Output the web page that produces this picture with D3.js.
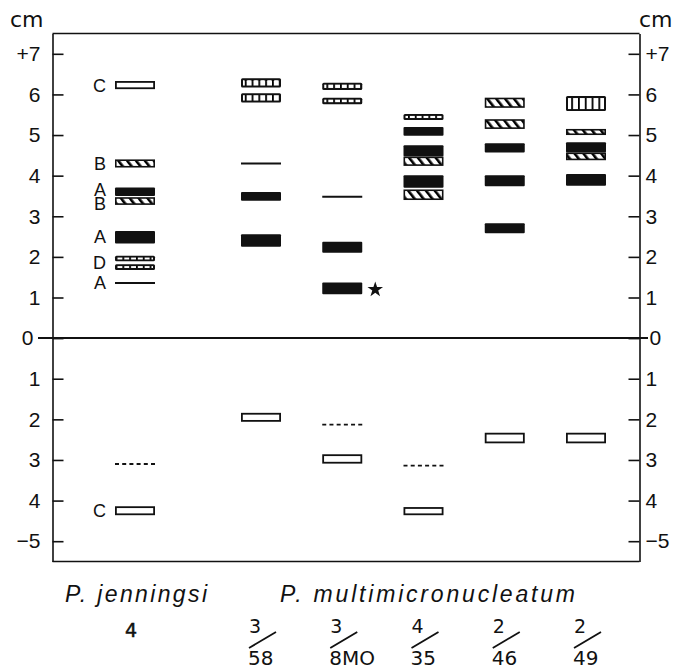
<!DOCTYPE html>
<html><head><meta charset="utf-8">
<script src="https://cdn.jsdelivr.net/npm/d3@7"></script>
<style>html,body{margin:0;padding:0;background:#fff}svg{display:block}</style>
</head><body>
<script>
// ---------- data ----------
const laneNames = ["4", "3/58", "3/8MO", "4/35", "2/46", "2/49"];
const laneNumerators = ["4", "3", "3", "4", "2", "2"];
const laneDenominators = [null, "58", "8MO", "35", "46", "49"];
const speciesNames = ["P. jenningsi", "P. multimicronucleatum"];
const tickValues = [7, 6, 5, 4, 3, 2, 1, 0, -1, -2, -3, -4, -5];
const tickLabels = ["+7", "6", "5", "4", "3", "2", "1", "0", "1", "2", "3", "4", "\u22125"];

// bands: lane, lower edge (cm), upper edge (cm), kind
const bandLane = [
  "4","4","4","4","4","4","4","4","4","4",
  "3/58","3/58","3/58","3/58","3/58","3/58",
  "3/8MO","3/8MO","3/8MO","3/8MO","3/8MO","3/8MO","3/8MO",
  "4/35","4/35","4/35","4/35","4/35","4/35","4/35","4/35",
  "2/46","2/46","2/46","2/46","2/46","2/46",
  "2/49","2/49","2/49","2/49","2/49","2/49"];
const bandLow = [
  6.13, 4.20, 3.50, 3.28, 2.33, 1.89, 1.68, 1.36, -3.10, -4.36,
  6.17, 5.80, 4.30, 3.38, 2.25, -2.06,
  6.11, 5.76, 3.48, 2.10, 1.08, -2.13, -3.09,
  5.37, 4.98, 4.47, 4.24, 3.70, 3.40, -3.14, -4.36,
  5.67, 5.15, 4.57, 3.74, 2.58, -2.59,
  5.59, 5.00, 4.57, 4.38, 3.75, -2.59];
const bandHigh = [
  6.33, 4.40, 3.71, 3.47, 2.64, 2.03, 1.82, 1.36, -3.10, -4.14,
  6.40, 6.03, 4.30, 3.60, 2.56, -1.84,
  6.29, 5.92, 3.48, 2.37, 1.37, -2.13, -2.86,
  5.52, 5.20, 4.75, 4.47, 4.01, 3.66, -3.14, -4.16,
  5.92, 5.39, 4.80, 4.01, 2.83, -2.33,
  5.96, 5.15, 4.82, 4.57, 4.04, -2.33];
const bandKind = [
  "open","hatch","solid","hatch","solid","grid","grid","line","dash","open",
  "grid","grid","line","solid","solid","open",
  "grid","grid","line","solid","solid","dash","open",
  "grid","solid","solid","hatch","solid","hatch","dash","open",
  "hatch","hatch","solid","solid","solid","open",
  "grid","hatch","solid","hatch","solid","open"];

// letter labels on the P. jenningsi lane
const letterText = ["C", "B", "A", "B", "A", "D", "A", "C"];
const letterPos = [6.23, 4.30, 3.66, 3.32, 2.49, 1.86, 1.36, -4.25];

// starred band
const starLane = "3/8MO";
const starPos = 1.22;

// ---------- layout ----------
const W = 677, H = 670;
const left = 52.5, right = 639.5;
const svg = d3.select("body").append("svg").attr("width", W).attr("height", H);

const y = d3.scaleLinear().domain([-5.5, 7.5]).range([561.5, 33.5]);
const laneIndex = d3.scaleOrdinal().domain(laneNames).range(d3.range(laneNames.length));
const laneX = name => { const i = laneIndex(name); return i === 0 ? 135 : 261 + (i - 1) * 81.25; };
const halfW = 20;

const defs = svg.append("defs");
const hatch = defs.append("pattern").attr("id", "hatch").attr("patternUnits", "userSpaceOnUse")
  .attr("width", 7).attr("height", 20).attr("patternTransform", "rotate(-38)");
hatch.append("rect").attr("width", 7).attr("height", 20).attr("fill", "#fff");
hatch.append("rect").attr("x", 0).attr("width", 2.6).attr("height", 20).attr("fill", "#000");
const cells = defs.append("pattern").attr("id", "cells").attr("patternUnits", "userSpaceOnUse")
  .attr("width", 6.8).attr("height", 40);
cells.append("rect").attr("width", 6.8).attr("height", 40).attr("fill", "#000");
cells.append("rect").attr("x", 1.8).attr("width", 5).attr("height", 40).attr("rx", 1.2).attr("fill", "#fff");

const ink = "#111";
const numFont = "'Liberation Sans', Arial, sans-serif";
const labFont = "'DejaVu Sans', sans-serif";

// frame top/bottom
svg.append("line").attr("x1", left).attr("x2", right).attr("y1", y(7.5)).attr("y2", y(7.5))
  .attr("stroke", ink).attr("stroke-width", 1.6);
svg.append("line").attr("x1", left).attr("x2", right).attr("y1", y(-5.5)).attr("y2", y(-5.5))
  .attr("stroke", ink).attr("stroke-width", 1.6);

const fmt = v => tickLabels[tickValues.indexOf(v)];
const gL = svg.append("g").attr("transform", `translate(${left},0)`)
  .call(d3.axisLeft(y).tickValues(tickValues).tickFormat(fmt).tickSize(-11).tickSizeOuter(0).tickPadding(12));
const gR = svg.append("g").attr("transform", `translate(${right},0)`)
  .call(d3.axisRight(y).tickValues(tickValues).tickFormat(fmt).tickSize(-11).tickSizeOuter(0).tickPadding(6));
[gL, gR].forEach(g => {
  g.attr("font-family", null).attr("font-size", null);
  g.select(".domain").attr("stroke", ink).attr("stroke-width", 1.6);
  g.selectAll(".tick line").attr("stroke", ink).attr("stroke-width", 1.6);
  g.selectAll(".tick text").attr("font-family", numFont).attr("font-size", 21).attr("fill", ink);
});
gL.selectAll(".tick").filter(d => d === 0).select("text").attr("x", -19);
gR.selectAll(".tick").filter(d => d === 0).select("text").attr("x", 10);

// zero line
svg.append("line").attr("x1", 38).attr("x2", 648).attr("y1", y(0)).attr("y2", y(0))
  .attr("stroke", ink).attr("stroke-width", 2);

// cm labels
svg.append("text").attr("x", 10).attr("y", 27).text("cm")
  .attr("font-family", labFont).attr("font-size", 22).attr("fill", ink);
svg.append("text").attr("x", 639).attr("y", 27).text("cm")
  .attr("font-family", labFont).attr("font-size", 22).attr("fill", ink);

// bands
const bands = bandLane.map((l, i) => ({ lane: l, lo: bandLow[i], hi: bandHigh[i], kind: bandKind[i] }));
const gB = svg.append("g");
bands.forEach(b => {
  const cx = laneX(b.lane);
  const x0 = cx - halfW, w = halfW * 2;
  const yt = y(b.hi), h = y(b.lo) - y(b.hi);
  if (b.kind === "line") {
    gB.append("line").attr("x1", x0).attr("x2", x0 + w).attr("y1", yt).attr("y2", yt)
      .attr("stroke", ink).attr("stroke-width", 2);
  } else if (b.kind === "dash") {
    gB.append("line").attr("x1", x0).attr("x2", x0 + w).attr("y1", yt).attr("y2", yt)
      .attr("stroke", ink).attr("stroke-width", 1.8).attr("stroke-dasharray", "4,3.2");
  } else if (b.kind === "solid") {
    gB.append("rect").attr("x", x0).attr("y", yt).attr("width", w).attr("height", h)
      .attr("rx", 1).attr("fill", ink);
  } else if (b.kind === "hatch") {
    gB.append("rect").attr("x", x0 + 0.8).attr("y", yt + 0.8).attr("width", w - 1.6).attr("height", h - 1.6)
      .attr("fill", "url(#hatch)").attr("stroke", ink).attr("stroke-width", 1.6);
  } else if (b.kind === "grid") {
    gB.append("rect").attr("x", x0).attr("y", yt).attr("width", w).attr("height", h)
      .attr("rx", 1.5).attr("fill", ink);
    const ins = Math.min(2, h / 3);
    gB.append("rect").attr("x", x0 + 2).attr("y", yt + ins).attr("width", w - 4).attr("height", h - 2 * ins)
      .attr("fill", "url(#cells)");
  } else if (b.kind === "open") {
    gB.append("rect").attr("x", x0 + 0.9).attr("y", yt + 0.9).attr("width", w - 1.8).attr("height", h - 1.8)
      .attr("fill", "#fff").attr("stroke", ink).attr("stroke-width", 1.8);
  }
});

// letters
svg.append("g").selectAll("text").data(letterText).join("text")
  .attr("x", laneX(laneNames[0]) - halfW - 9)
  .attr("y", (d, i) => y(letterPos[i]))
  .attr("dy", "0.36em").attr("text-anchor", "end")
  .attr("font-family", numFont).attr("font-size", 18).attr("fill", ink)
  .text(d => d);

// star
svg.append("path")
  .attr("d", d3.symbol().type(d3.symbolStar).size(75)())
  .attr("transform", `translate(${laneX(starLane) + halfW + 13},${y(starPos) + 1})`)
  .attr("fill", ink);

// species labels
const spFont = "'Liberation Sans', Arial, sans-serif";
svg.append("text").attr("x", 65).attr("y", 602).text(speciesNames[0])
  .attr("font-family", spFont).attr("font-style", "italic").attr("font-size", 23)
  .attr("textLength", 142).attr("lengthAdjust", "spacing").attr("fill", ink);
svg.append("text").attr("x", 280).attr("y", 602).text(speciesNames[1])
  .attr("font-family", spFont).attr("font-style", "italic").attr("font-size", 23)
  .attr("textLength", 295).attr("lengthAdjust", "spacing").attr("fill", ink);

// lane labels
const gLab = svg.append("g").attr("font-family", labFont).attr("fill", ink);
laneNames.forEach((name, i) => {
  const cx = laneX(name);
  if (laneDenominators[i] === null) {
    gLab.append("text").attr("x", cx - 4).attr("y", 637).attr("text-anchor", "middle")
      .attr("font-size", 19).attr("stroke", ink).attr("stroke-width", 0.5).text(laneNumerators[i]);
  } else {
    gLab.append("text").attr("x", cx - 12).attr("y", 633)
      .attr("font-size", 19).text(laneNumerators[i]);
    gLab.append("line").attr("x1", cx - 12).attr("y1", 648).attr("x2", cx + 15).attr("y2", 632)
      .attr("stroke", ink).attr("stroke-width", 1.8);
    gLab.append("text").attr("x", cx - 13).attr("y", 665)
      .attr("font-size", 20).text(laneDenominators[i]);
  }
});
</script>
</body></html>
